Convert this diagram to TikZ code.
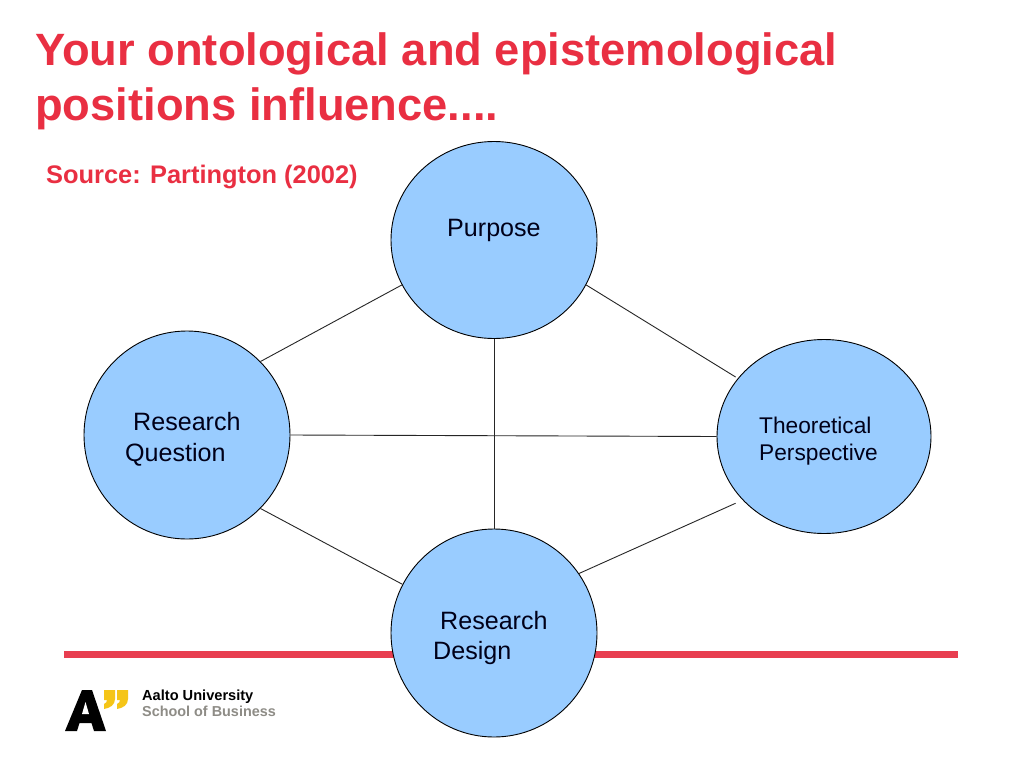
\documentclass[tikz,border=0pt]{standalone}
\usepackage{fontspec}
\setmainfont{Liberation Sans}
\usetikzlibrary{shapes.geometric}
\definecolor{titlered}{HTML}{E92F42}
\definecolor{rulered}{HTML}{E83E50}
\definecolor{bubble}{HTML}{99CCFF}
\definecolor{logoyellow}{HTML}{F5C518}
\definecolor{logogray}{HTML}{8E8C86}
\tikzset{
  bubblenode/.style={ellipse,draw=black,fill=bubble,line width=0.9pt,inner sep=0pt},
  link/.style={draw=black!85,line width=0.9pt},
  lab/.style={anchor=base west,inner sep=0pt,font=\fontsize{25.1}{25.1}\selectfont,text=black!90!blue},
  smalllab/.style={anchor=base west,inner sep=0pt,font=\fontsize{22.7}{22.7}\selectfont,text=black!90!blue},
  titletext/.style={anchor=base west,inner sep=0pt,text=titlered,font=\fontsize{45.3}{45.3}\selectfont\bfseries},
}
\begin{document}
\begin{tikzpicture}[x=1pt,y=-1pt]
\useasboundingbox (0,0) rectangle (1024,768);
\fill[white] (0,0) rectangle (1024,768);
% title
\node[titletext] (t1) at (35,65) {Your ontological and epistemological};
\node[titletext] (t2) at (35,120) {positions influence....};
\node[anchor=base west,inner sep=0pt,text=titlered,font=\fontsize{25.4}{25.4}\selectfont\bfseries] (src) at (46,183) {Source: Partington (2002)};
% rule
\fill[rulered] (64,651) rectangle (958,658);
% logo
\fill[black] (65,731) -- (82,690) -- (92,690) -- (106,731) -- (94,731) -- (91.5,723) -- (79.5,723) -- (77,731) -- cycle;
\fill[white] (82,714) -- (89,714) -- (85.5,702) -- cycle;
\fill[logoyellow] (104,690) -- (115,690) -- (115,699) .. controls (115,705) and (110,708) .. (104,709) -- (104,704) .. controls (106,703) and (107,702) .. (107,700) -- (104,700) -- cycle;
\fill[logoyellow] (117,690) -- (128,690) -- (128,699) .. controls (128,705) and (123,708) .. (117,709) -- (117,704) .. controls (119,703) and (120,702) .. (120,700) -- (117,700) -- cycle;
\node[anchor=base west,inner sep=0pt,font=\fontsize{14.6}{14.6}\selectfont\bfseries,text=black] (l1) at (142,700) {Aalto University};
\node[anchor=base west,inner sep=0pt,font=\fontsize{14.4}{14.4}\selectfont\bfseries,text=logogray] (l2) at (142,716) {School of Business};
% bubbles
\node[bubblenode,minimum width=206pt,minimum height=197pt] (p) at (494,240) {};
\node[bubblenode,minimum width=206pt,minimum height=208pt] (q) at (187,435) {};
\node[bubblenode,minimum width=214pt,minimum height=194pt] (r) at (824,436.5) {};
\node[bubblenode,minimum width=206pt,minimum height=208pt] (d) at (494,633) {};
% connectors
\draw[link] (p.206) -- (q.45);
\draw[link,shorten >=2.5pt] (p.-26) -- (r.146);
\draw[link] (q.-45) -- (d.152);
\draw[link,shorten >=7.7pt] (d.35) -- (r.218);
\draw[link] (p.south) -- (d.north);
\draw[link] (q.east) -- (r.west);
% labels
\node[lab] (a) at (447,236) {Purpose};
\node[lab] (b1) at (133,430) {Research};
\node[lab] (b2) at (125,461) {Question};
\node[smalllab] (c1) at (759,433) {Theoretical};
\node[smalllab] (c2) at (759,460) {Perspective};
\node[lab] (e1) at (440,629) {Research};
\node[lab] (e2) at (433,659) {Design};
\end{tikzpicture}
\end{document}
